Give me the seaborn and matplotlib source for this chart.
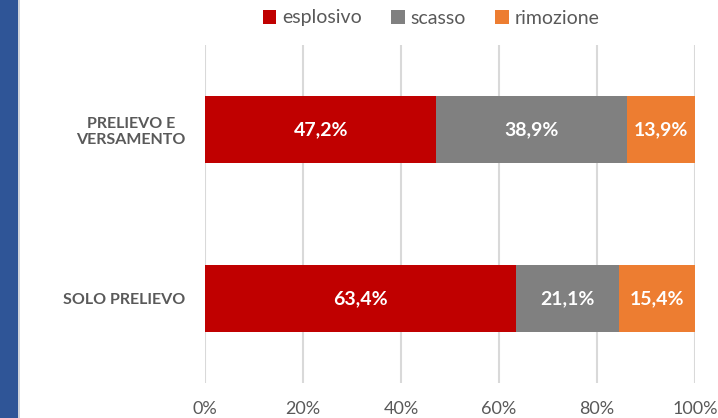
import pandas as pd
import numpy as np
import matplotlib
matplotlib.use("Agg")
import matplotlib.pyplot as plt
import seaborn as sns
from matplotlib.patches import Rectangle, Patch

# data
categories = ["PRELIEVO E\nVERSAMENTO", "SOLO PRELIEVO"]
series_names = ["esplosivo", "scasso", "rimozione"]
esplosivo = [47.2, 63.4]
scasso = [38.9, 21.1]
rimozione = [13.9, 15.4]
tick_labels = ["0%", "20%", "40%", "60%", "80%", "100%"]

colors = {"esplosivo": "#C00000", "scasso": "#808080", "rimozione": "#ED7D31"}
text_gray = "#595959"

sns.set_style("white")
plt.rcParams["font.family"] = ["Lato", "DejaVu Sans"]

fig = plt.figure(figsize=(7.18, 4.18), dpi=100)
ax = fig.add_axes([205 / 718, 1 - 383 / 418, 490 / 718, 338 / 418])

df = pd.DataFrame({"cat": categories, "esplosivo": esplosivo,
                   "scasso": scasso, "rimozione": rimozione})
df["cum_scasso"] = df["esplosivo"] + df["scasso"]
df["cum_rimozione"] = df["cum_scasso"] + df["rimozione"]

# stacked by overdrawing cumulative totals
for col, name in [("cum_rimozione", "rimozione"), ("cum_scasso", "scasso"), ("esplosivo", "esplosivo")]:
    sns.barplot(data=df, x=col, y="cat", orient="h", color=colors[name],
                width=0.4, saturation=1, linewidth=0, ax=ax, zorder=3)

# value labels in the middle of each segment
for i in range(len(categories)):
    starts = [0, esplosivo[i], esplosivo[i] + scasso[i]]
    vals = [esplosivo[i], scasso[i], rimozione[i]]
    for s, v in zip(starts, vals):
        ax.text(s + v / 2, i, f"{v:.1f}%".replace(".", ","), ha="center", va="center",
                color="white", fontsize=14, fontweight="bold", zorder=4)

ax.set_xlim(0, 100)
ax.set_ylim(1.5, -0.5)
ax.set_xticks(np.linspace(0, 100, len(tick_labels)))
ax.set_xticklabels(tick_labels, color=text_gray, fontsize=13)
ax.tick_params(axis="x", length=0, pad=13)
ax.tick_params(axis="y", length=0, pad=14)
for lab in ax.get_yticklabels():
    lab.set_fontweight("bold")
    lab.set_color(text_gray)
    lab.set_fontsize(11.5)
    lab.set_multialignment("center")
ax.set_xlabel("")
ax.set_ylabel("")
ax.grid(axis="x", color="#D9D9D9", linewidth=1.5, zorder=0)
for sp in ax.spines.values():
    sp.set_visible(False)

handles = [Patch(facecolor=colors[n], edgecolor="none") for n in series_names]
fig.legend(handles, series_names, loc="center", bbox_to_anchor=(431 / 718, 1 - 18 / 418),
           ncol=3, frameon=False, fontsize=14, labelcolor=text_gray,
           handlelength=0.7, handleheight=0.7, handletextpad=0.3, columnspacing=1.5)

# blue strip on the left edge
fig.patches.append(Rectangle((0, 0), 18 / 718, 1, transform=fig.transFigure,
                             facecolor="#2F5597", edgecolor="none"))
fig.patches.append(Rectangle((18 / 718, 0), 2 / 718, 1, transform=fig.transFigure,
                             facecolor="#D0D4DC", edgecolor="none"))

fig.savefig("out.png", dpi=100)
